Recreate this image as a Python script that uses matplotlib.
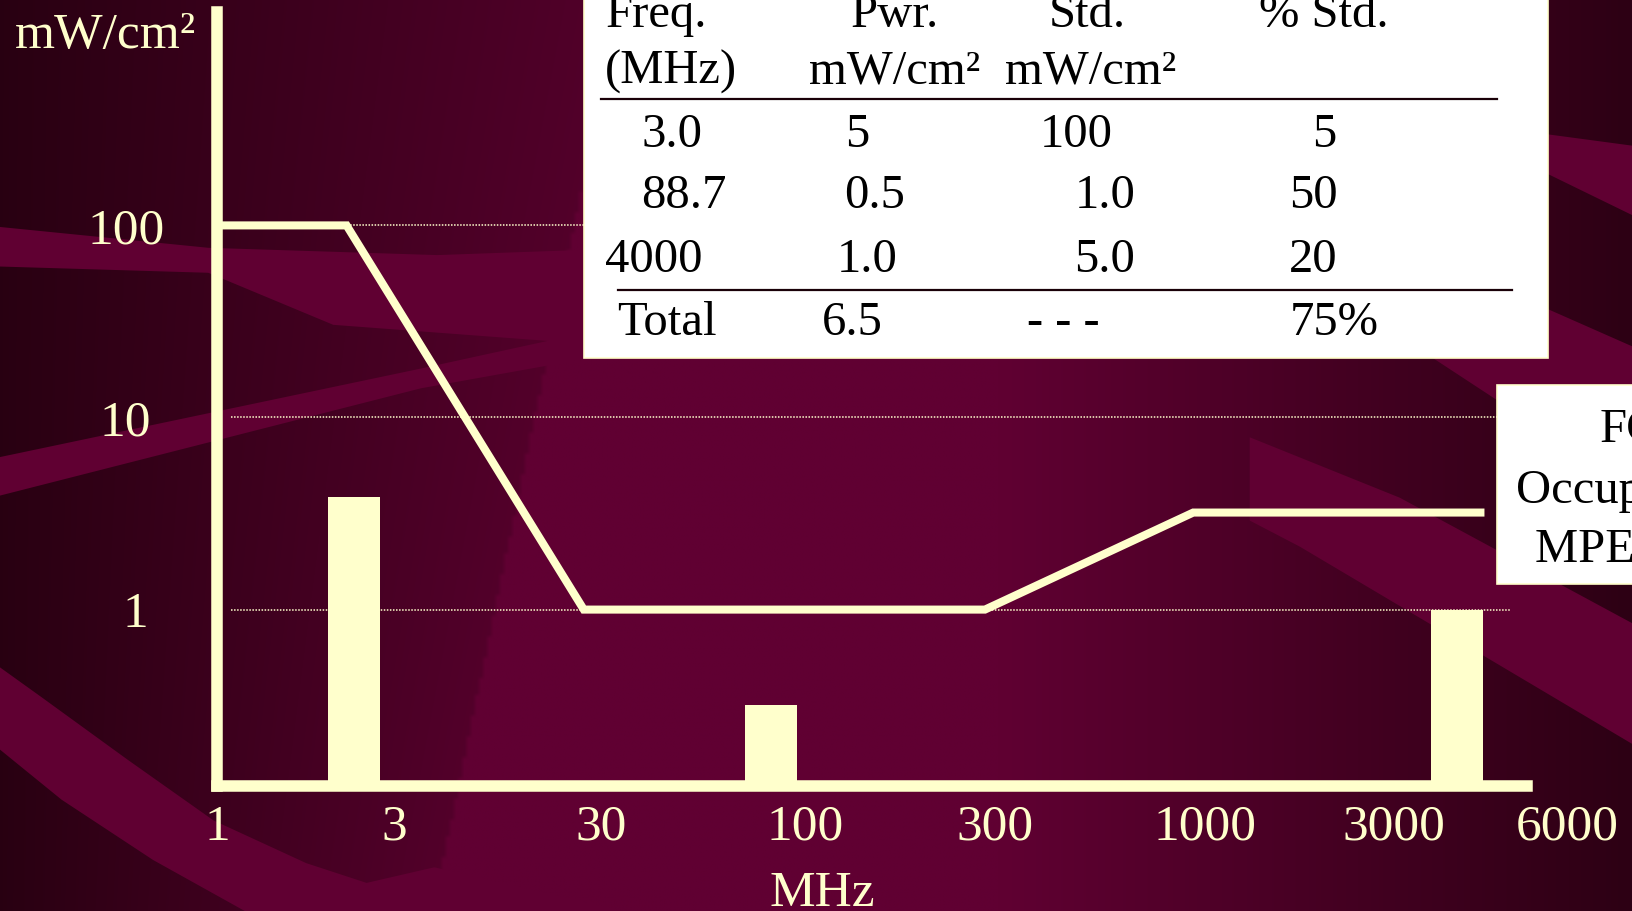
import numpy as np
import matplotlib
matplotlib.use("Agg")
import matplotlib.pyplot as plt
from matplotlib.patches import Rectangle, Polygon
import matplotlib.transforms as mtransforms

plt.rcParams['font.family'] = ['Liberation Serif', 'DejaVu Serif']

# ---------------- data ----------------
x_tick_labels = ["1", "3", "30", "100", "300", "1000", "3000", "6000"]
y_tick_values = [1, 10, 100]
y_tick_labels = ["1", "10", "100"]
# FCC occupational MPE (schematic), position along the drawn frequency axis
mpe_pos = [0.0, 0.67, 1.90, 3.98, 5.06, 6.57]
mpe_level = [100, 100, 1.0, 1.0, 3.2, 3.2]
# measured power densities (bars)
bar_pos = [0.71, 2.87, 6.43]
bar_level = [3.85, 0.32, 1.0]

table_header1 = ["Freq.", "Pwr.", "Std.", "% Std."]
table_header2 = ["(MHz)", "mW/cm\u00b2", "mW/cm\u00b2"]
table_freq = ["3.0", "88.7", "4000"]
table_pwr = ["5", "0.5", "1.0"]
table_std = ["100", "1.0", "5.0"]
table_pct = ["5", "50", "20"]
table_total = ["Total", "6.5", "- - -", "75%"]
fcc_lines = ["FCC", "Occupational", "MPE Limit"]

# ---------------- layout ----------------
CREAM = "#ffffcc"
W, H = 1568.0, 875.0           # working coordinates of the slide
x_tick_pos = [0.0, 0.917, 1.99, 3.05, 4.03, 5.12, 6.10, 7.0]
ax_left, ax_right, ax_bottom, ax_top = 208.7, 1505.0, 755.0, 12.0
y_one, decade = 585.5, 184.5

fig = plt.figure(figsize=(16.33, 9.11), dpi=100)

# ---------------- background ----------------
bg = fig.add_axes([0, 0, 1, 1], zorder=0)
nx, ny = 392, 219
X, Y = np.meshgrid(np.linspace(0, W, nx), np.linspace(0, H, ny))
xb = 525 - (Y - 340) * 0.2056
f = np.where(X < xb, 0.05 + 0.72 * np.clip(X / xb, 0, 1), 1.0)
f = f * (1 - 0.88 * np.clip((X - 960) / (W - 960), 0, 1))
dark = np.array([38, 0, 16]) / 255
maroon = np.array([96, 0, 50]) / 255
img = dark + f[..., None] * (maroon - dark)
bg.imshow(img, extent=[0, W, H, 0], aspect='auto', interpolation='bilinear')
bands = [
    [(0, 218), (200, 238), (420, 245), (560, 240), (560, 330), (320, 312), (200, 262), (0, 256)],
    [(0, 439), (404, 354), (560, 320), (560, 345), (404, 373), (0, 476)],
    [(0, 641), (39, 669), (123, 730), (205, 788), (294, 829), (352, 848), (417, 833),
     (600, 875), (235, 875), (147, 826), (59, 768), (0, 720)],
    [(1400, 120), (1486, 129), (1568, 140), (1568, 207), (1486, 167), (1400, 150)],
    [(1380, 250), (1568, 333), (1568, 470), (1376, 344)],
    [(1200, 420), (1344, 478), (1568, 599), (1568, 715), (1248, 525), (1200, 500)],
]
for b in bands:
    bg.add_patch(Polygon(b, closed=True, facecolor=maroon, edgecolor='none'))
bg.set_xlim(0, W)
bg.set_ylim(H, 0)
bg.axis('off')

# ---------------- main chart ----------------
ax = fig.add_axes([ax_left / W, 1 - ax_bottom / H, (ax_right - ax_left) / W,
                   (ax_bottom - ax_top) / H], zorder=2)
ax.patch.set_alpha(0)
ax.set_yscale('log')
ybot = 10 ** (-(ax_bottom - y_one) / decade)
ytop = 10 ** ((y_one - ax_top) / decade)
ax.set_ylim(ybot, ytop)
ax.set_xlim(0, 7.0)

ax.hlines(y_tick_values, 0.07, 6.70, colors=CREAM, linewidth=1.1,
          linestyles=(0, (1, 1)), zorder=1)
ax.bar(bar_pos, np.array(bar_level) - ybot, bottom=ybot, width=0.27,
       color=CREAM, linewidth=0, zorder=3)
ax.plot(mpe_pos, mpe_level, color=CREAM, linewidth=5.8,
        solid_joinstyle='miter', solid_capstyle='butt', zorder=4)

for side in ('top', 'right'):
    ax.spines[side].set_visible(False)
for side in ('left', 'bottom'):
    ax.spines[side].set_color(CREAM)
    ax.spines[side].set_linewidth(8.3)
    ax.spines[side].set_capstyle('projecting')
    ax.spines[side].set_zorder(5)
ax.spines['bottom'].set_bounds(0, 6.79)

ax.set_xticks(x_tick_pos, x_tick_labels)
ax.set_yticks(y_tick_values, y_tick_labels)
ax.minorticks_off()
ax.tick_params(axis='x', length=0, pad=13, labelsize=37, labelcolor=CREAM)
ax.tick_params(axis='y', length=0, pad=66, labelsize=37, labelcolor=CREAM)
for lab in ax.get_yticklabels():
    lab.set_horizontalalignment('center')
# the "1" label sits a little further right in the original slide
t0 = ax.yaxis.get_major_ticks()[0]
t0.label1.set_transform(t0.label1.get_transform() +
                        mtransforms.ScaledTranslation(0.10, 0, fig.dpi_scale_trans))

ax.set_xlabel("MHz", fontsize=37, color=CREAM, va='baseline')
ax.xaxis.set_label_coords((790 - ax_left) / (ax_right - ax_left),
                          (ax_bottom - 870) / (ax_bottom - ax_top))
ax.set_ylabel("mW/cm\u00b2", fontsize=37, color=CREAM, rotation=0,
              ha='center', va='baseline')
ax.yaxis.set_label_coords((101 - ax_left) / (ax_right - ax_left),
                          (ax_bottom - 46) / (ax_bottom - ax_top))

# ---------------- overlay: table and FCC box ----------------
ov = fig.add_axes([0, 0, 1, 1], zorder=5)
ov.set_xlim(0, W)
ov.set_ylim(H, 0)
ov.axis('off')
ov.patch.set_alpha(0)

ov.add_patch(Rectangle((561, -20), 925, 364, facecolor='white',
                       edgecolor=CREAM, linewidth=1.2))
ov.plot([577, 1437], [95, 95], color='#1a0008', linewidth=1.6)
ov.plot([593, 1452], [279, 279], color='#1a0008', linewidth=1.6)

tfs = 35
row_base = [26, 80, 141, 200, 261, 322]
rows = [table_header1, table_header2,
        [table_freq[0], table_pwr[0], table_std[0], table_pct[0]],
        [table_freq[1], table_pwr[1], table_std[1], table_pct[1]],
        [table_freq[2], table_pwr[2], table_std[2], table_pct[2]],
        table_total]
row_x = [[581, 817, 1007, 1209],
         [581, 777, 965],
         [616, 811, 998, 1260],
         [616, 811, 1032, 1238],
         [581, 803, 1031, 1238],
         [593, 789, 986, 1238]]
for r, yb, xs in zip(rows, row_base, row_x):
    for s, xx in zip(r, xs):
        ov.text(xx, yb, s, fontsize=tfs, color='black', ha='left', va='baseline')

ov.add_patch(Rectangle((1437, 370), 300, 191, facecolor='white',
                       edgecolor=CREAM, linewidth=1.2))
for s, yb in zip(fcc_lines, [425, 483, 540]):
    ov.text(1580, yb, s, fontsize=tfs, color='black', ha='center', va='baseline')

fig.savefig("out.png", dpi=100)
